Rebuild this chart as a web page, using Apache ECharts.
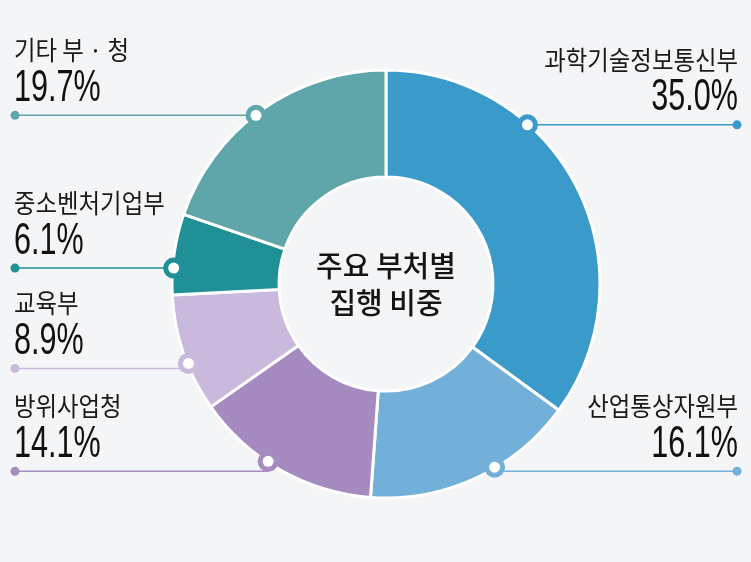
<!DOCTYPE html>
<html>
<head>
<meta charset="utf-8">
<script src="https://cdn.jsdelivr.net/npm/echarts@6/dist/echarts.min.js"></script>
<style>
html,body{margin:0;padding:0;background:#f4f5f7;}
#c{width:751px;height:562px;}
</style>
</head>
<body>
<div id="c"></div>
<script>
// ---- data ----
const names = ['과학기술정보통신부', '산업통상자원부', '방위사업청', '교육부', '중소벤처기업부', '기타 부 · 청'];
const shares = [35.0, 16.1, 14.1, 8.9, 6.1, 19.7];
const centerTitle = ['주요 부처별', '집행 비중'];

// ---- styles / layout ----
const colors = ['#3a9bcb', '#72b0d9', '#a68bc1', '#c9b9dc', '#1f9095', '#5fa6aa'];
const anchorFrac = [0.33, 0.40, 0.58, 0.41, 0.33, 0.47]; // where the leader touches each slice
const leaderDrop = [0, 4, 10, 5, 0, 0];                  // leader line sits this far below its ring
const CENTER = [386, 284];
const R_IN = 107, R_OUT = 214;

const total = shares.reduce((a, b) => a + b, 0);
const starts = [];
shares.reduce((acc, v) => { starts.push(acc); return acc + v; }, 0);
const anchors = shares.map((v, i) => [0.995, starts[i] + anchorFrac[i] * v, i]);

const chart = echarts.init(document.getElementById('c'), null, {renderer: 'canvas'});
const pctFont = '"Liberation Sans", Arial, sans-serif';
const krFont = '"Noto Sans CJK KR", "Noto Sans", sans-serif';

chart.setOption({
  backgroundColor: '#f4f5f7',
  animation: false,
  polar: {center: CENTER, radius: R_OUT},
  angleAxis: {type: 'value', min: 0, max: total, startAngle: 90, clockwise: true, show: false},
  radiusAxis: {type: 'value', min: 0, max: 1, show: false},
  series: [
    {
      type: 'pie',
      center: CENTER,
      radius: [R_IN, R_OUT],
      startAngle: 90,
      clockwise: true,
      silent: true,
      label: {
        show: true,
        position: 'center',
        formatter: () => centerTitle.join('\n'),
        fontFamily: krFont,
        fontSize: 29,
        fontWeight: 500,
        lineHeight: 37,
        color: '#151515'
      },
      labelLine: {show: false},
      itemStyle: {borderColor: '#ffffff', borderWidth: 3},
      data: shares.map((v, i) => ({
        value: v,
        name: names[i],
        itemStyle: {color: colors[i]},
        label: {show: i === 0}
      }))
    },
    {
      type: 'custom',
      coordinateSystem: 'polar',
      silent: true,
      z: 10,
      data: anchors,
      renderItem: function (params, api) {
        const i = api.value(2);
        const p = api.coord([api.value(0), api.value(1)]);
        const W = api.getWidth();
        const right = api.value(1) < total / 2;
        const xEnd = right ? W - 14 : 15;
        const xText = right ? W - 13 : 14;
        const y = p[1] + leaderDrop[i];
        const col = colors[i];
        const align = right ? 'right' : 'left';
        return {
          type: 'group',
          children: [
            {type: 'line', shape: {x1: p[0], y1: y, x2: xEnd, y2: y}, style: {stroke: col, lineWidth: 1.5}},
            {type: 'circle', shape: {cx: xEnd, cy: y, r: 4.5}, style: {fill: col}},
            {type: 'circle', shape: {cx: p[0], cy: p[1], r: 10.5}, style: {fill: col}},
            {type: 'circle', shape: {cx: p[0], cy: p[1], r: 5.5}, style: {fill: '#ffffff'}},
            {type: 'text', x: xText, y: y - 65, scaleX: 0.9, style: {
              text: names[i], x: 0, y: 0,
              align: align, verticalAlign: 'middle', textAlign: align, textVerticalAlign: 'middle',
              fontFamily: krFont, fontSize: 26, fill: '#1a1a1a'
            }},
            {type: 'text', x: xText, y: y - 27, scaleX: 0.68, style: {
              text: shares[i].toFixed(1) + '%', x: 0, y: 0,
              align: align, verticalAlign: 'middle', textAlign: align, textVerticalAlign: 'middle',
              fontFamily: pctFont, fontSize: 45, fill: '#111111'
            }}
          ]
        };
      }
    }
  ]
});
</script>
</body>
</html>
